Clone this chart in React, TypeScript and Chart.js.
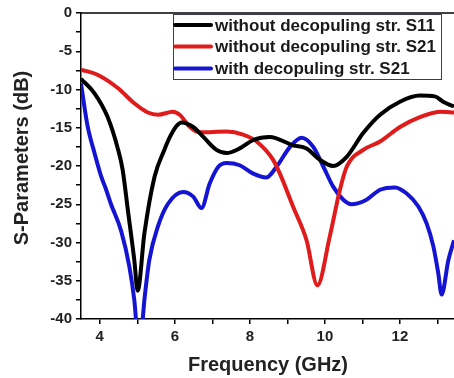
import React, { useEffect, useRef } from "react";
import { Chart, registerables } from "chart.js";

Chart.register(...registerables);

// Frequency sweep (GHz) and S-parameter magnitudes (dB)
const freqS11NoDec = [3.5, 3.86, 4.21, 4.48, 4.61, 4.75, 4.92, 5.01, 5.19, 5.46, 5.72, 5.87, 6.04, 6.18, 6.49, 6.76, 7.11, 7.38, 7.73, 8.09, 8.53, 9.15, 9.51, 9.87, 10.22, 10.58, 11.02, 11.47, 12.0, 12.53, 12.93, 13.15, 13.33, 13.44];
const s11NoDec = [-8.6, -10.5, -13.6, -17.7, -20.5, -25.8, -32.3, -36.3, -28.8, -21.4, -17.9, -16.2, -14.8, -14.3, -14.9, -16.2, -17.9, -18.3, -17.7, -16.6, -16.2, -17.3, -17.7, -19.2, -20.0, -18.8, -15.7, -13.3, -11.6, -10.8, -10.9, -11.6, -12.0, -12.2];

const freqS21NoDec = [3.5, 3.95, 4.48, 4.92, 5.28, 5.55, 5.95, 6.13, 6.4, 6.67, 7.38, 7.82, 8.18, 8.62, 8.8, 9.15, 9.51, 9.8, 10.13, 10.4, 10.58, 11.02, 11.47, 12.0, 12.53, 13.11, 13.44];
const s21NoDec = [-7.4, -8.1, -9.8, -11.8, -13.0, -13.3, -12.9, -13.3, -14.9, -15.6, -15.5, -15.9, -16.8, -19.2, -21.0, -25.3, -29.7, -35.6, -29.2, -23.1, -20.1, -17.9, -16.8, -14.9, -13.6, -12.9, -13.0];

const freqS21Dec = [3.5, 3.55, 3.68, 3.86, 4.04, 4.17, 4.3, 4.57, 4.79, 4.92, 5.05, 5.2, 5.32, 5.55, 5.81, 6.22, 6.49, 6.71, 6.93, 7.16, 7.38, 7.73, 8.09, 8.44, 8.71, 9.07, 9.38, 9.69, 9.96, 10.22, 10.49, 10.71, 11.11, 11.47, 11.87, 12.18, 12.49, 12.71, 12.89, 13.02, 13.11, 13.29, 13.44];
const s21Dec = [-9.2, -10.9, -14.9, -18.3, -21.4, -23.1, -25.0, -28.5, -33.2, -37.5, -44.0, -37.0, -32.3, -27.9, -25.0, -23.4, -24.0, -25.5, -22.3, -20.1, -19.6, -19.9, -21.0, -21.5, -20.1, -17.5, -16.3, -17.5, -20.1, -22.7, -24.4, -25.0, -24.4, -23.1, -22.8, -23.6, -25.3, -27.5, -30.5, -34.0, -36.8, -32.3, -29.7];

const seriesLabels = [
  "without decopuling str. S11",
  "without decopuling str. S21",
  "with decopuling str. S21",
];
const seriesColors = ["#000000", "#e01b1b", "#1414d2"];

const xTicks = [4, 5, 6, 7, 8, 9, 10, 11, 12, 13];
const xLabelTicks = [4, 6, 8, 10, 12];
const yTicks = [0, -2.5, -5, -7.5, -10, -12.5, -15, -17.5, -20, -22.5, -25, -27.5, -30, -32.5, -35, -37.5, -40];

const xTitle = "Frequency (GHz)";
const yTitle = "S-Parameters (dB)";

const FONT = "'Liberation Sans', Arial, sans-serif";

const toPoints = (xs: number[], ys: number[]) => xs.map((x, i) => ({ x, y: ys[i] }));

// Frame line on top, axis titles and the boxed legend inside the plot
const decorPlugin = {
  id: "decor",
  afterDraw(chart: any) {
    const { ctx, chartArea } = chart;
    ctx.save();
    ctx.strokeStyle = "#000";
    ctx.lineWidth = 1.5;
    ctx.beginPath();
    ctx.moveTo(chartArea.left, chartArea.top);
    ctx.lineTo(chartArea.right, chartArea.top);
    ctx.stroke();

    ctx.fillStyle = "#222";
    ctx.font = `bold 20px ${FONT}`;
    ctx.textAlign = "center";
    ctx.textBaseline = "middle";
    ctx.fillText(xTitle, 268, 365);
    ctx.save();
    ctx.translate(22, 158);
    ctx.rotate(-Math.PI / 2);
    ctx.fillText(yTitle, 0, 0);
    ctx.restore();

    // legend
    const bx = 173.5, by = 14.5, bw = 268, bh = 65;
    ctx.fillStyle = "#fff";
    ctx.fillRect(bx, by, bw, bh);
    ctx.strokeStyle = "#3a3a5a";
    ctx.lineWidth = 1;
    ctx.strokeRect(bx, by, bw, bh);
    const rows = [25, 46.5, 68.5];
    ctx.font = `bold 17px ${FONT}`;
    ctx.textAlign = "left";
    seriesLabels.forEach((lab, i) => {
      ctx.strokeStyle = seriesColors[i];
      ctx.lineWidth = 4;
      ctx.lineCap = "round";
      ctx.beginPath();
      ctx.moveTo(175, rows[i]);
      ctx.lineTo(211, rows[i]);
      ctx.stroke();
      ctx.fillStyle = "#1a1a1a";
      ctx.fillText(lab, 215, rows[i] + 1);
    });
    ctx.restore();
  },
};

export default function App() {
  const canvasRef = useRef<HTMLCanvasElement | null>(null);

  useEffect(() => {
    document.body.style.margin = "0";
    const canvas = canvasRef.current;
    if (!canvas) return;
    const datasets = [
      toPoints(freqS11NoDec, s11NoDec),
      toPoints(freqS21NoDec, s21NoDec),
      toPoints(freqS21Dec, s21Dec),
    ].map((data, i) => ({
      label: seriesLabels[i],
      data,
      borderColor: seriesColors[i],
      backgroundColor: seriesColors[i],
      borderWidth: 4,
      pointRadius: 0,
      cubicInterpolationMode: "monotone" as const,
      clip: 0,
    }));

    const chart = new Chart(canvas, {
      type: "line",
      data: { datasets },
      options: {
        animation: false,
        responsive: false,
        maintainAspectRatio: false,
        layout: { padding: { top: 13, right: 0, left: 0, bottom: 0 } },
        plugins: { legend: { display: false }, tooltip: { enabled: false } },
        scales: {
          x: {
            type: "linear",
            min: 3.5,
            max: 13.44,
            afterFit: (s: any) => {
              s.height = 59;
            },
            afterBuildTicks: (s: any) => {
              s.ticks = xTicks.map((v) => ({ value: v }));
            },
            grid: { display: true, drawOnChartArea: false, drawTicks: true, tickLength: 5, color: "#000", lineWidth: 1.5 },
            border: { display: true, color: "#000", width: 1.5 },
            ticks: {
              autoSkip: false,
              maxRotation: 0,
              padding: 4,
              color: "#222",
              font: { family: FONT, size: 15, weight: "bold" },
              callback: (v: any) => (xLabelTicks.includes(Number(v)) ? String(v) : ""),
            },
          },
          y: {
            type: "linear",
            min: -40,
            max: 0,
            afterFit: (s: any) => {
              s.width = 81;
            },
            afterBuildTicks: (s: any) => {
              s.ticks = yTicks.map((v) => ({ value: v }));
            },
            grid: { display: true, drawOnChartArea: false, drawTicks: true, tickLength: 5, color: "#000", lineWidth: 1.5 },
            border: { display: true, color: "#000", width: 1.5 },
            ticks: {
              autoSkip: false,
              padding: 4,
              color: "#222",
              font: { family: FONT, size: 15, weight: "bold" },
              callback: (v: any) => (Number(v) % 5 === 0 ? String(v) : ""),
            },
          },
        },
      },
      plugins: [decorPlugin],
    });
    return () => chart.destroy();
  }, []);

  return (
    <div style={{ width: 454, height: 378, position: "relative", background: "#fff" }}>
      <canvas ref={canvasRef} width={454} height={378} style={{ display: "block" }} />
    </div>
  );
}
